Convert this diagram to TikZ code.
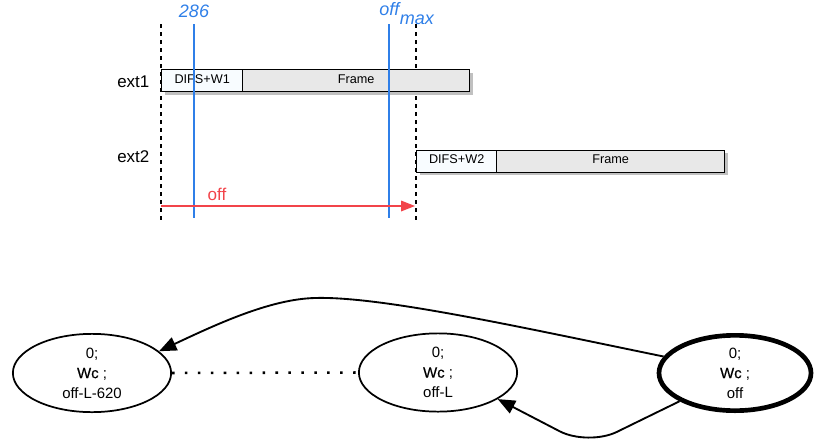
\documentclass[tikz,border=0pt]{standalone}
\usepackage{fontspec}
\setmainfont{Liberation Sans}
\newfontfamily\wcfont[FakeBold=0.5]{Liberation Sans}
\usetikzlibrary{arrows.meta,shadows,shapes.geometric}
\definecolor{blueline}{HTML}{2F7FE8}
\definecolor{redline}{HTML}{F2444A}
\definecolor{framegray}{HTML}{E8E8E8}
\definecolor{difsfill}{HTML}{F8FCFF}
\tikzset{
  px/.style={x=0.75pt,y=-0.75pt},
  seg/.style={draw=black,line width=1pt,minimum height=16.5pt,inner sep=0pt,anchor=north west,
    font=\fontsize{9.5}{11}\selectfont,text height=6.8pt,text depth=3pt,
    drop shadow={shadow xshift=2.2pt,shadow yshift=-2.2pt,fill=black!45,opacity=0.55}},
  rowlabel/.style={font=\fontsize{12.7}{14}\selectfont,anchor=base west,inner sep=0pt},
  state/.style={draw=black,ellipse,line width=1.3pt,minimum width=118.7pt,minimum height=58.7pt,inner sep=0pt,align=center,font=\fontsize{11.2}{15}\selectfont},
  dashline/.style={dashed,line width=0.9pt},
  vline/.style={draw=blueline,line width=0.9pt},
  bluelabel/.style={text=blueline,font=\fontsize{13.5}{15}\selectfont\itshape,inner sep=0pt},
  edge/.style={line width=1.4pt,-{Triangle[length=13pt,width=10.5pt]}},
}
\begin{document}
\begin{tikzpicture}[px]
\useasboundingbox (0,0) rectangle (816,446);
% dashed verticals
\coordinate (d1t) at (161,24); \coordinate (d1b) at (161,221);
\coordinate (d2t) at (416,24); \coordinate (d2b) at (416,221);
\draw[dashline] (d1t) -- (d1b);
\draw[dashline] (d2t) -- (d2b);
% boxes
\node[seg,fill=difsfill,minimum width=60.75pt] (dw1) at (161,69) {DIFS+W1};
\node[seg,fill=framegray,minimum width=170.25pt] (fr1) at (242,69) {Frame};
\node[seg,fill=difsfill,minimum width=60pt] (dw2) at (416,149.5) {DIFS+W2};
\node[seg,fill=framegray,minimum width=171pt] (fr2) at (496,149.5) {Frame};
% blue lines
\coordinate (b1t) at (194,24); \coordinate (b1b) at (194,218);
\coordinate (b2t) at (389,24); \coordinate (b2b) at (389,218);
\draw[vline] (b1t) -- (b1b);
\draw[vline] (b2t) -- (b2b);
\node[bluelabel,anchor=base] (l286) at (194,17) {286};
\node[bluelabel,anchor=base west] (loff) at (379,16) {off\hspace{0.5pt}\raisebox{-6.5pt}{max}};
% row labels
\node[rowlabel] (ext1) at (117,87) {ext1};
\node[rowlabel] (ext2) at (117,162) {ext2};
% red arrow
\coordinate (ra) at (161,206); \coordinate (rb) at (415,206);
\draw[redline,line width=0.9pt,-{Triangle[length=10.5pt,width=8pt]}] (ra) -- (rb);
\node[text=redline,font=\fontsize{12.8}{14}\selectfont,inner sep=0pt] (offl) at (217,194) {off};
% states
\node[state] (s1) at (92,373) {0;\\{\wcfont Wc} ;\\off-L-620};
\node[state] (s2) at (438,372.5) {0;\\{\wcfont Wc} ;\\off-L};
\node[state,line width=3.5pt,minimum width=114pt,minimum height=56.5pt] (s3) at (735,373) {0;\\{\wcfont Wc} ;\\off};
\draw[line width=1.9pt,dash pattern=on 1.9pt off 7.8pt] (s1.east) -- (s2.west);
\coordinate (peak) at (315,298);
\coordinate (vtx) at (588,446);
\draw[edge] (s3.167) .. controls (520,327) and (380,296) .. (peak)
  .. controls (270,299) and (215,325) .. (s1.18);
\draw[edge,rounded corners=24pt] (s3.207) -- (vtx) -- (s2.-24);
\end{tikzpicture}
\end{document}
